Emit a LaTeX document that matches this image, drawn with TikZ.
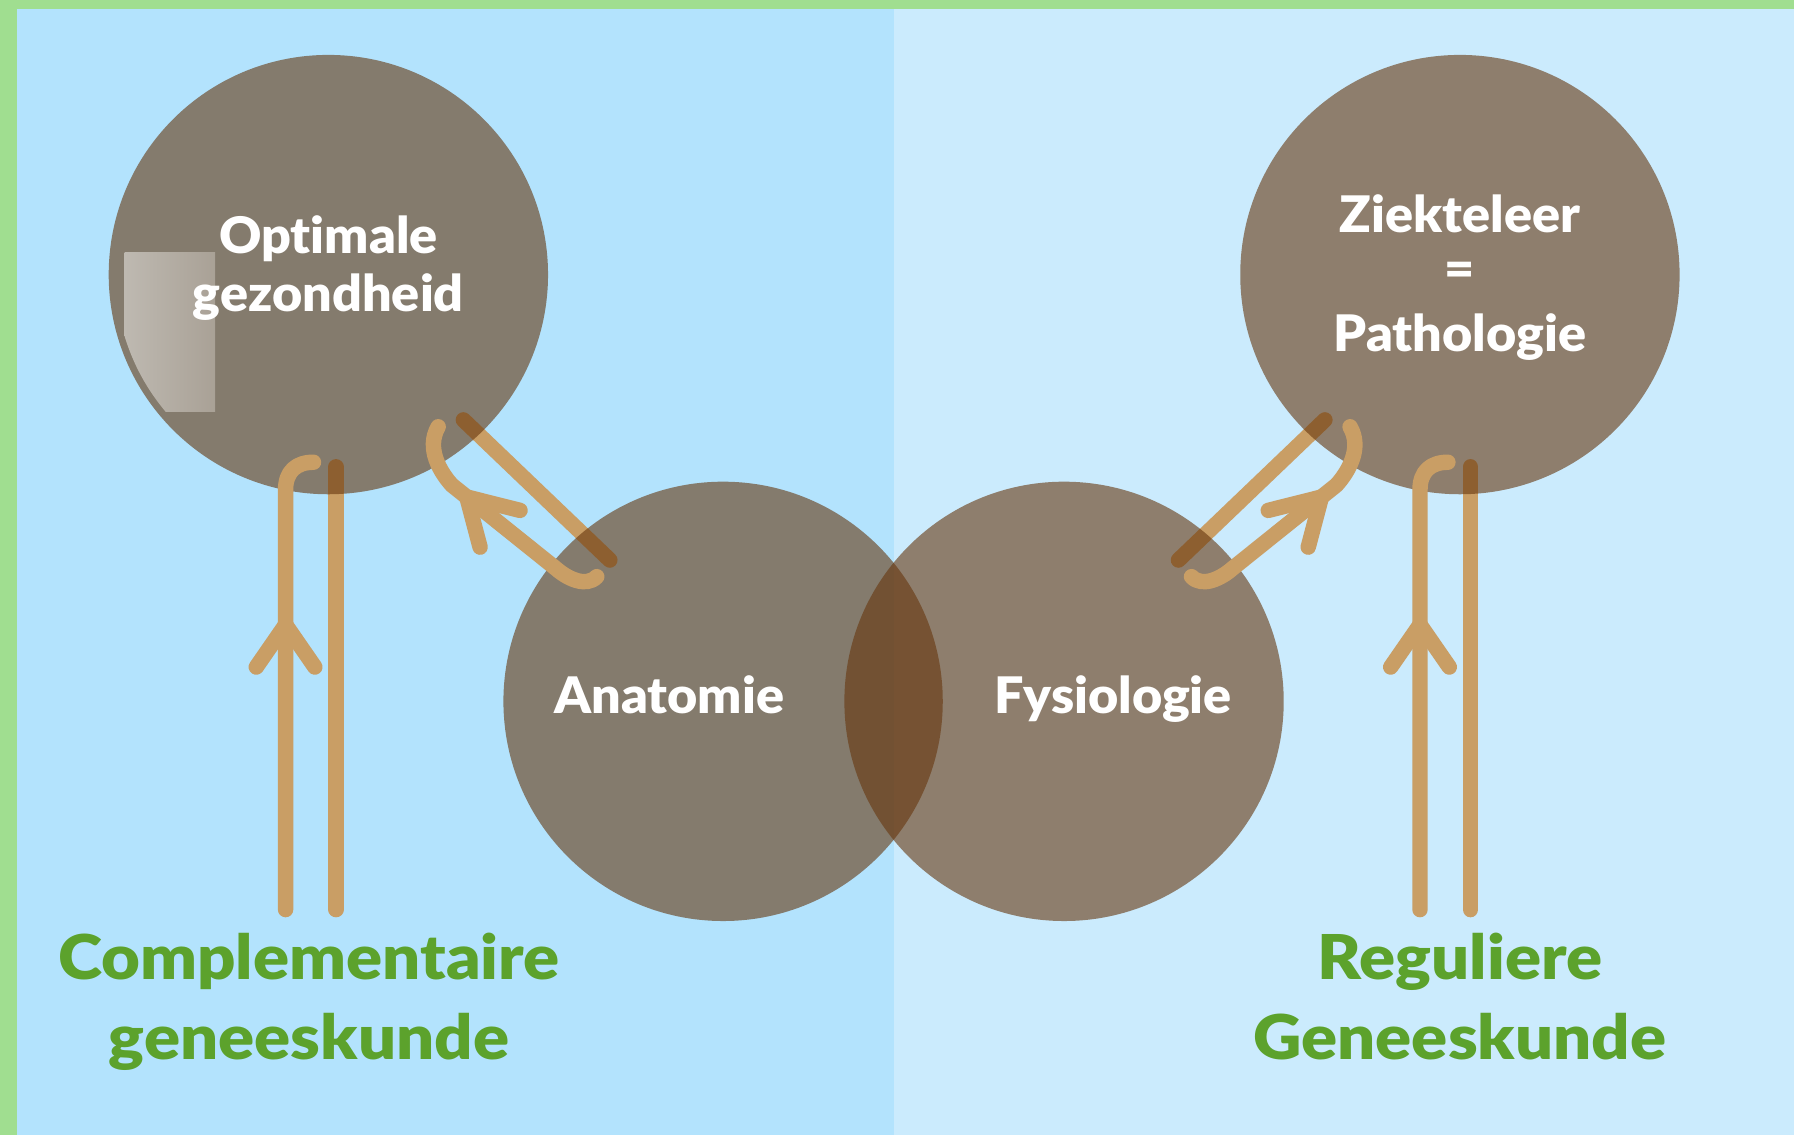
\documentclass[tikz,border=0pt]{standalone}
\usepackage{fontspec}
\setmainfont{Lato}[Ligatures=NoCommon]
\IfFontExistsTF{Lato Black}{%
  \newfontfamily\wlabfam{Lato Black}[Ligatures=NoCommon, FakeStretch=1.035]
  \newfontfamily\glabfam{Lato Black}[Ligatures=NoCommon, FakeStretch=1.085]
  \newcommand\wlabfont{\wlabfam}\newcommand\glabfont{\glabfam}}{%
  \IfFontExistsTF{Lato Heavy}{%
    \newfontfamily\wlabfam{Lato Heavy}[Ligatures=NoCommon, FakeStretch=1.05]
    \newfontfamily\glabfam{Lato Heavy}[Ligatures=NoCommon, FakeStretch=1.10]
    \newcommand\wlabfont{\wlabfam}\newcommand\glabfont{\glabfam}}{%
    \newfontfamily\wlabfam{Lato}[Ligatures=NoCommon, FakeStretch=1.08]
    \newfontfamily\glabfam{Lato}[Ligatures=NoCommon, FakeStretch=1.13]
    \newcommand\wlabfont{\wlabfam\bfseries}\newcommand\glabfont{\glabfam\bfseries}}}
\definecolor{bordergreen}{HTML}{A0DE90}
\definecolor{leftblue}{HTML}{B3E3FD}
\definecolor{rightblue}{HTML}{CBEBFD}
\definecolor{bubblebrown}{HTML}{66360D}
\definecolor{tanc}{HTML}{C99E65}
\definecolor{labelgreen}{HTML}{5CA22C}
\definecolor{hlleft}{HTML}{BEB9B1}
\definecolor{hlright}{HTML}{A9A196}
\begin{document}
\begin{tikzpicture}[x=1pt,y=-1pt,
  tanline/.style={draw=tanc, line width=13.5pt, line cap=round, line join=round},
  bubble/.style={circle, fill=bubblebrown, fill opacity=0.6, minimum size=384pt, inner sep=0pt, draw=none},
  wlab/.style={text=white, font=\wlabfont\fontsize{44}{50}\selectfont, anchor=base, inner sep=0pt},
  glab/.style={text=labelgreen, font=\glabfont\fontsize{54}{60}\selectfont, anchor=base, inner sep=0pt}]
\useasboundingbox (0,0) rectangle (1568,992);
% background
\fill[bordergreen] (0,0) rectangle (1568,992);
\fill[leftblue] (15,7.5) rectangle (781,992);
\fill[rightblue] (781,7.5) rectangle (1568,992);
% coordinates
\coordinate (vLh0) at (249.6,795); \coordinate (vLh1) at (249.6,428); \coordinate (vLhE) at (274,404);
\coordinate (vLs0) at (293.7,795); \coordinate (vLs1) at (293.7,408);
\coordinate (vLt) at (249.6,546); \coordinate (vLa1) at (224,583); \coordinate (vLa2) at (275.2,583);
\coordinate (vRh0) at (1241.1,795); \coordinate (vRh1) at (1241.1,428); \coordinate (vRhE) at (1265.5,404);
\coordinate (vRs0) at (1285.2,795); \coordinate (vRs1) at (1285.2,408);
\coordinate (vRt) at (1241.1,546); \coordinate (vRa1) at (1215.5,583); \coordinate (vRa2) at (1266.7,583);
\coordinate (dLs0) at (533,489.5); \coordinate (dLs1) at (405,367);
\coordinate (dLhA) at (521.6,504); \coordinate (dLhB) at (486,497); \coordinate (dLhC) at (395,424); \coordinate (dLhD) at (383,373);
\coordinate (dLt) at (408,434.4); \coordinate (dLa1) at (454.5,446.1); \coordinate (dLa2) at (419.6,478.2);
\coordinate (dRs0) at (1030,489.5); \coordinate (dRs1) at (1158,367);
\coordinate (dRhA) at (1041.4,504); \coordinate (dRhB) at (1077,497); \coordinate (dRhC) at (1168,424); \coordinate (dRhD) at (1180,373);
\coordinate (dRt) at (1155,434.4); \coordinate (dRa1) at (1108.5,446.1); \coordinate (dRa2) at (1143.4,478.2);
% straight lines beneath the circles
\draw[tanline] (vLs0) -- (vLs1);
\draw[tanline] (vRs0) -- (vRs1);
\draw[tanline] (dLs0) -- (dLs1);
\draw[tanline] (dRs0) -- (dRs1);
% circles
\node[bubble] (opt) at (287,240) {};
\node[bubble] (zie) at (1276,240) {};
\node[bubble] (ana) at (632,613) {};
\node[bubble] (fys) at (930,613) {};
% highlight in the first circle
\begin{scope}
  \clip (287,240) circle (186pt);
  \shade[left color=hlleft, right color=hlright] (109,221) rectangle (188,360);
\end{scope}
% hooked arrows on top
\draw[tanline] (vLh0) -- (vLh1) .. controls (249.6,412) and (259,404) .. (vLhE);
\draw[tanline] (vLa1) -- (vLt) -- (vLa2);
\draw[tanline] (vRh0) -- (vRh1) .. controls (1241.1,412) and (1250.5,404) .. (vRhE);
\draw[tanline] (vRa1) -- (vRt) -- (vRa2);
\draw[tanline] (dLhA) .. controls (512,514) and (495,505) .. (dLhB) -- (dLhC) .. controls (385,413) and (372,392) .. (dLhD);
\draw[tanline] (dLa1) -- (dLt) -- (dLa2);
\draw[tanline] (dRhA) .. controls (1051,514) and (1068,505) .. (dRhB) -- (dRhC) .. controls (1178,413) and (1191,392) .. (dRhD);
\draw[tanline] (dRa1) -- (dRt) -- (dRa2);
% texts
\node[wlab] (tOpt1) at (287,222) {Optimale};
\node[wlab] (tOpt2) at (287,272) {gezondheid};
\node[wlab] (tZie1) at (1276,203) {Ziekteleer};
\node[wlab, anchor=center] (tZie2) at (1276,240) {=};
\node[wlab] (tZie3) at (1276,307) {Pathologie};
\node[wlab] (tAna) at (585,624) {Anatomie};
\node[wlab] (tFys) at (973,624) {Fysiologie};
\node[glab] (tComp1) at (270,856) {Complementaire};
\node[glab] (tComp2) at (270,926) {geneeskunde};
\node[glab] (tReg1) at (1276,856) {Reguliere};
\node[glab] (tReg2) at (1276,926) {Geneeskunde};
\end{tikzpicture}
\end{document}
